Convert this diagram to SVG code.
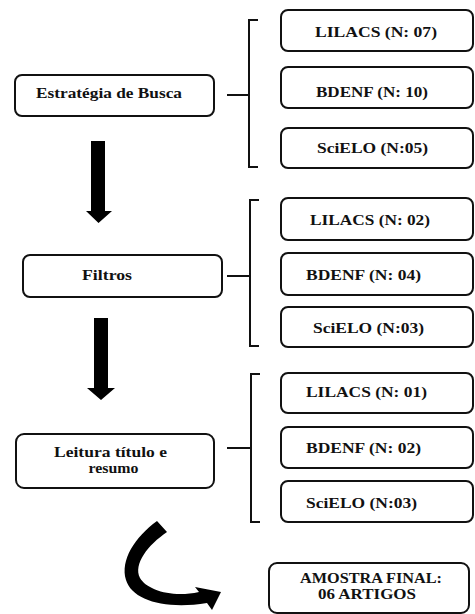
<svg xmlns="http://www.w3.org/2000/svg" width="475" height="614" viewBox="0 0 475 614">
<style>
.box{fill:#fff;stroke:#111;stroke-width:2}
.t{font-family:'Times New Roman','Liberation Serif','DejaVu Serif',serif;font-weight:700;font-size:15px;fill:#111;text-anchor:middle}
.ln{fill:none;stroke:#111;stroke-width:2}
.ar{fill:#000}
</style>
<rect width="475" height="614" fill="#fff"/>
<g id="connectors">
<path class="ln" d="M227,95H249M258,20H249V167H258"/>
<path class="ln" d="M227,276H250M259,200H250V346H259"/>
<path class="ln" d="M227,448H251M260,374H251V522H260"/>
<polygon class="ar" points="91,141 105,141 105,211 112,211 98.5,223 86,211 91,211"/>
<polygon class="ar" points="94,318 108,318 108,388 115,388 101,400 87,388 94,388"/>
<path class="ar" d="M157,521 C135,537 120,560 126,580 C132,600 165,610 207,603 L212,610 L221,592 L195,587 L199,592 C172,598 147,590 140,578 C133,564 148,545 167,532 Z"/>
</g>
<g id="estrategia"><rect class="box" x="15" y="75" width="199" height="41" rx="7"/><text class="t" x="109" y="98" textLength="146" lengthAdjust="spacingAndGlyphs">Estratégia de Busca</text></g>
<g id="lilacs1"><rect class="box" x="281" y="10" width="192" height="41" rx="7"/><text class="t" x="376" y="37" textLength="122" lengthAdjust="spacingAndGlyphs">LILACS (N: 07)</text></g>
<g id="bdenf1"><rect class="box" x="281" y="67" width="192" height="41" rx="7"/><text class="t" x="372" y="97" textLength="112" lengthAdjust="spacingAndGlyphs">BDENF (N: 10)</text></g>
<g id="scielo1"><rect class="box" x="281" y="128" width="192" height="40" rx="7"/><text class="t" x="372.5" y="153" textLength="111" lengthAdjust="spacingAndGlyphs">SciELO (N:05)</text></g>
<g id="filtros"><rect class="box" x="23" y="255" width="199" height="42" rx="7"/><text class="t" x="107" y="280" textLength="50" lengthAdjust="spacingAndGlyphs">Filtros</text></g>
<g id="lilacs2"><rect class="box" x="281" y="198" width="192" height="42" rx="7"/><text class="t" x="370" y="225" textLength="120" lengthAdjust="spacingAndGlyphs">LILACS (N: 02)</text></g>
<g id="bdenf2"><rect class="box" x="281" y="253" width="192" height="42" rx="7"/><text class="t" x="363.5" y="280" textLength="115" lengthAdjust="spacingAndGlyphs">BDENF (N: 04)</text></g>
<g id="scielo2"><rect class="box" x="281" y="307" width="192" height="40" rx="7"/><text class="t" x="368.5" y="333" textLength="111" lengthAdjust="spacingAndGlyphs">SciELO (N:03)</text></g>
<g id="leitura"><rect class="box" x="16" y="434" width="198" height="54" rx="8"/><text class="t" x="110.5" y="457" textLength="113" lengthAdjust="spacingAndGlyphs">Leitura título e</text><text class="t" x="113.5" y="473" textLength="50" lengthAdjust="spacingAndGlyphs">resumo</text></g>
<g id="lilacs3"><rect class="box" x="281" y="373" width="192" height="40" rx="7"/><text class="t" x="366.5" y="397" textLength="121" lengthAdjust="spacingAndGlyphs">LILACS (N: 01)</text></g>
<g id="bdenf3"><rect class="box" x="281" y="427" width="192" height="41" rx="7"/><text class="t" x="363.5" y="453" textLength="115" lengthAdjust="spacingAndGlyphs">BDENF (N: 02)</text></g>
<g id="scielo3"><rect class="box" x="281" y="481" width="192" height="41" rx="7"/><text class="t" x="361.5" y="508" textLength="111" lengthAdjust="spacingAndGlyphs">SciELO (N:03)</text></g>
<g id="final"><rect class="box" x="269" y="563" width="200" height="50" rx="8"/><text class="t" x="371" y="583" textLength="142" lengthAdjust="spacingAndGlyphs">AMOSTRA FINAL:</text><text class="t" x="367" y="599" textLength="98" lengthAdjust="spacingAndGlyphs">06 ARTIGOS</text></g>
</svg>
